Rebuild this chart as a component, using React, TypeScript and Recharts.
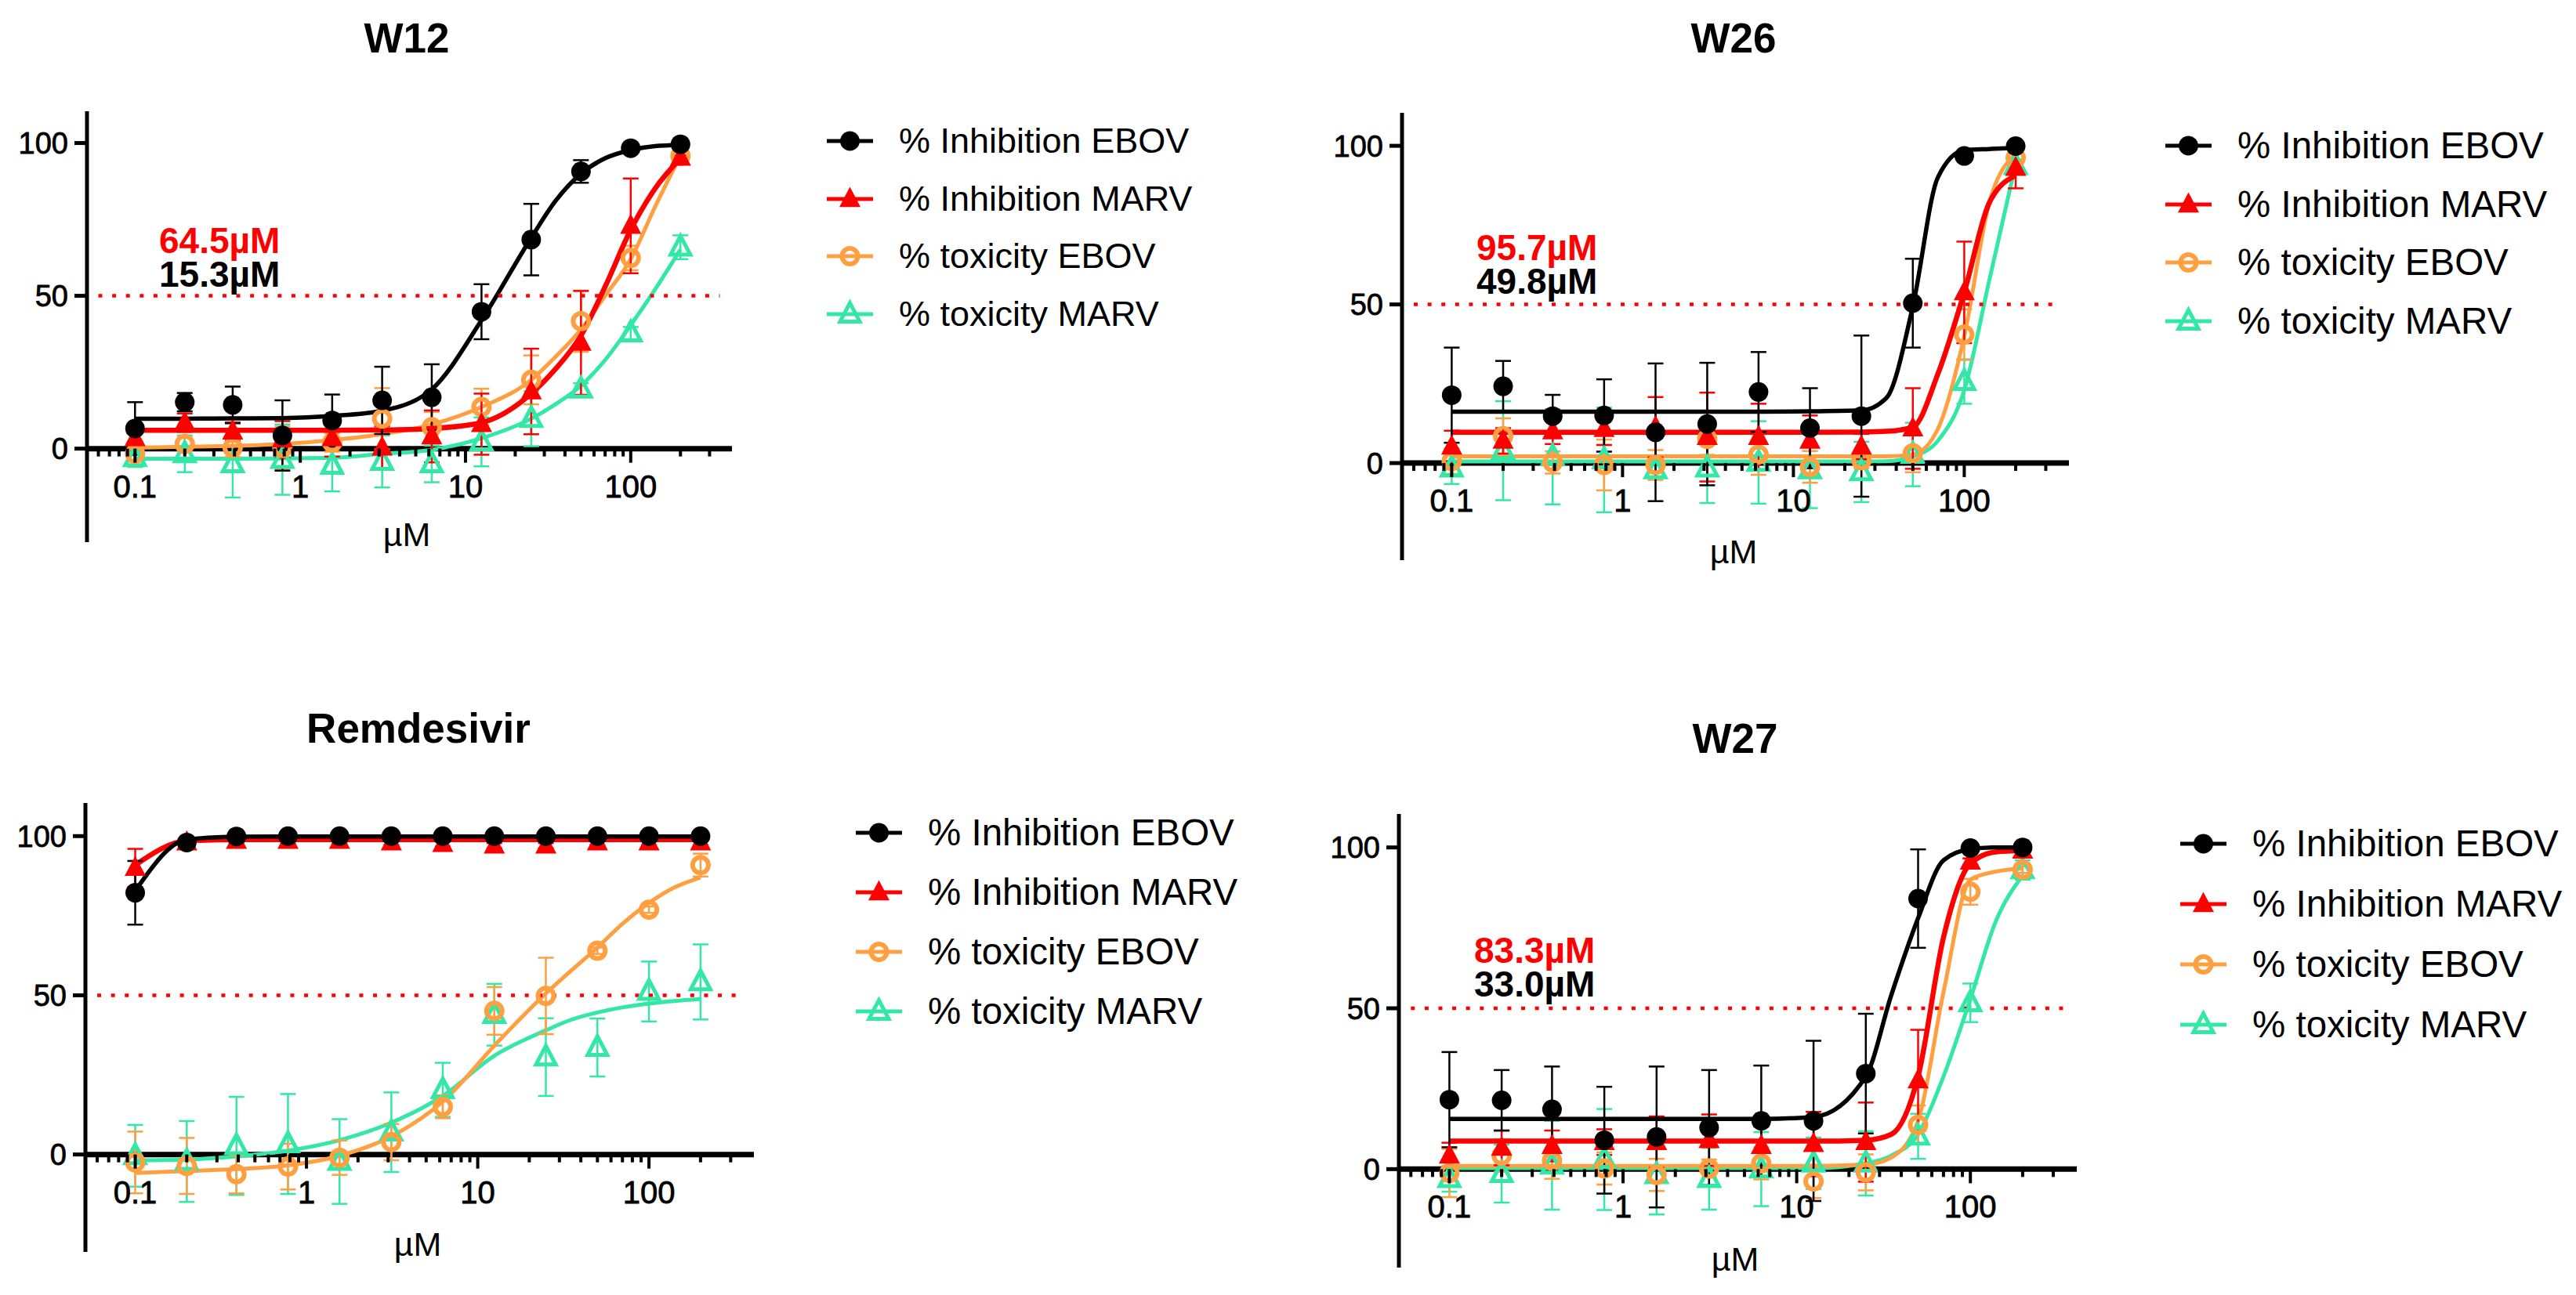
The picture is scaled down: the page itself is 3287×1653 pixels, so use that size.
import React from "react";
import { ComposedChart, ErrorBar, Line, ReferenceLine, Scatter, XAxis, YAxis } from "recharts";

const DOSES = [0.1, 0.2, 0.39, 0.78, 1.56, 3.13, 6.25, 12.5, 25, 50, 100, 200];
const FIT_DOSES = [0.1, 0.2, 0.39, 0.78, 1.56, 3.13, 6.25, 12.5, 25, 35, 50, 70, 100, 140, 200];
const X_TICKS = [
  0.06, 0.07, 0.08, 0.09, 0.1, 0.2, 0.3, 0.4, 0.5, 0.6, 0.7, 0.8, 0.9, 1, 2, 3, 4, 5, 6, 7, 8, 9, 10,
  20, 30, 40, 50, 60, 70, 80, 90, 100, 200, 300,
];
const X_LABELS = [0.1, 1, 10, 100];
const Y_TICKS = [0, 50, 100];
const X_DOMAIN = [0.0512, 410];
const Y_DOMAIN = [-30.6, 110.4];
const LEGEND_LABELS = ["% Inhibition EBOV", "% Inhibition MARV", "% toxicity EBOV", "% toxicity MARV"];

// W12
const W12_INH_EBOV = [6.6, 15.2, 14.3, 4.3, 9.2, 15.8, 16.8, 44.8, 68.4, 90.7, 98.3, 99.6];
const W12_INH_EBOV_ERR = [8.6, 3, 6, 11.5, 8.5, 11, 10.8, 9, 11.7, 3.7, 0.8, 0.3];
const W12_INH_EBOV_FIT = [9.8, 9.8, 9.9, 10, 10.7, 12.4, 19.4, 42, 69, 81, 90, 95, 97.7, 99, 99.4];
const W12_INH_MARV = [3.4, 8.5, 5.6, 3, 3.4, 0.3, 4, 8, 18.7, 34.6, 72.9, 95.2];
const W12_INH_MARV_ERR = [4, 3, 3, 6, 6, 7, 8.5, 10, 14, 17, 15.5, 0.8];
const W12_INH_MARV_FIT = [6, 6, 6, 6, 6, 6.1, 6.6, 8.5, 18, 26, 37, 53, 71.6, 85, 95];
const W12_TOX_EBOV = [-1.7, 1.5, 0.3, 0.2, 2, 9.8, 7, 13.6, 22.5, 41.7, 62.4, 95.8];
const W12_TOX_EBOV_ERR = [4, 2, 3, 7, 3, 10, 5, 6, 8, 10, 4, 1];
const W12_TOX_EBOV_FIT = [0.3, 0.6, 0.9, 1.5, 2.8, 4.7, 7.9, 13.6, 22.5, 30, 39, 50, 62, 79, 95.8];
const W12_TOX_MARV = [-3, -1.7, -5, -3.6, -5.5, -4.2, -5, 2.2, 9.8, 19.4, 37.8, 65.9];
const W12_TOX_MARV_ERR = [3, 6, 11, 11.5, 8.5, 8.5, 6, 8, 9, 2, 2, 3.9];
const W12_TOX_MARV_FIT = [-3.3, -3.3, -3.3, -3.2, -3, -1.7, -0.4, 3.4, 9.8, 14.5, 20.6, 29, 40.4, 52, 65.2];

// W26
const W26_INH_EBOV = [21.4, 24.2, 14.8, 15, 9.7, 12.3, 22.4, 11, 14.8, 50.4, 96.8, 99.9];
const W26_INH_EBOV_ERR = [15, 8, 6.7, 11.4, 21.7, 19.3, 12.6, 12.6, 25.4, 14, 0.7, 0.3];
const W26_INH_EBOV_FIT = [16.2, 16.2, 16.2, 16.2, 16.2, 16.2, 16.2, 16.3, 16.6, 20.5, 49.4, 90, 98.6, 99, 99.3];
const W26_INH_MARV = [5.2, 7, 10, 10.7, 11.3, 8.2, 8.2, 7, 5.2, 10.9, 53.8, 93];
const W26_INH_MARV_ERR = [5, 4, 4, 5, 9.5, 14, 10.5, 8, 4, 12.7, 16, 6.4];
const W26_INH_MARV_FIT = [9.7, 9.7, 9.7, 9.7, 9.7, 9.7, 9.7, 9.7, 9.8, 10, 11.3, 28, 53.8, 82, 90.7];
const W26_TOX_EBOV = [0.6, 8.5, 0.2, -0.6, -0.6, 7.6, 2.7, -1.2, 0.9, 3.1, 40.5, 96.2];
const W26_TOX_EBOV_ERR = [4, 5.6, 3.5, 8, 4.7, 5, 6.4, 5, 2.5, 6, 8, 2];
const W26_TOX_EBOV_FIT = [2.1, 2.1, 2.1, 2.1, 2.1, 2.1, 2.1, 2.1, 2.1, 2.1, 2.7, 10.7, 40, 82, 97.4];
const W26_TOX_MARV = [-1.6, 3.9, 2, 1, -2.2, -1.6, 0.2, -2.2, -2.8, 2.7, 25.7, 93.7];
const W26_TOX_MARV_ERR = [5, 15.6, 15, 16.5, 2, 11, 13, 12, 9.5, 10, 7, 2];
const W26_TOX_MARV_FIT = [0.5, 0.5, 0.5, 0.5, 0.5, 0.5, 0.5, 0.5, 0.5, 0.6, 2.1, 7, 23, 57.5, 94.3];

// Remdesivir
const REM_INH_EBOV = [82.2, 98, 99.9, 100, 100, 100, 100, 100, 100, 100, 100, 100];
const REM_INH_EBOV_ERR = [10, 1, 0.3, 0.3, 0.3, 0.3, 0.3, 0.3, 0.3, 0.3, 0.3, 0.3];
const REM_INH_EBOV_FIT = [82.8, 98.9, 99.8, 99.9, 99.9, 99.9, 99.9, 99.9, 99.9, 99.9, 99.9, 99.9, 99.9, 99.9, 99.9];
const REM_INH_MARV = [90, 98, 98.5, 98.5, 98.5, 98, 97.5, 97, 97, 98, 98, 98];
const REM_INH_MARV_ERR = [6, 0.8, 0.8, 0.8, 0.8, 0.8, 0.8, 0.8, 0.8, 0.8, 0.8, 0.8];
const REM_INH_MARV_FIT = [90.9, 98.5, 98.9, 98.9, 98.9, 98.9, 98.9, 98.9, 98.9, 98.9, 98.9, 98.9, 98.9, 98.9, 98.9];
const REM_TOX_EBOV = [-2.5, -3.6, -6.2, -3.8, -1, 3.9, 15, 45.1, 49.8, 64, 76.9, 90.9];
const REM_TOX_EBOV_ERR = [9.7, 8.8, 6, 7.2, 5.4, 5.7, 3.6, 7.5, 12, 1, 1, 3.6];
const REM_TOX_EBOV_FIT = [-5.8, -5.2, -4.6, -3.4, -0.4, 5.7, 16.6, 34.2, 50.6, 57.7, 65, 72.5, 79, 83.8, 87];
const REM_TOX_MARV = [-0.4, -2.2, 2.7, 3.3, -2.2, 7, 20.3, 43.9, 30.6, 33.6, 51.2, 54.2];
const REM_TOX_MARV_ERR = [9.7, 12.7, 15.4, 15.7, 13.3, 12.5, 8.5, 9.7, 12.2, 9.1, 9.4, 11.8];
const REM_TOX_MARV_FIT = [-1.8, -1.6, -0.6, 1.2, 4.5, 10, 18.4, 31, 39, 42.3, 44.6, 46.2, 47.4, 48.2, 48.8];

// W27
const W27_INH_EBOV = [21.6, 21.4, 18.6, 9, 10, 12.9, 15, 15, 29.7, 84.1, 99.8, 100];
const W27_INH_EBOV_ERR = [14.8, 9.4, 13.3, 16.6, 21.9, 17.9, 17.2, 24.9, 18.6, 15.3, 1, 0.3];
const W27_INH_EBOV_FIT = [15.6, 15.6, 15.6, 15.6, 15.6, 15.6, 15.6, 16.2, 28.8, 54, 78, 96, 99.5, 100, 100];
const W27_INH_MARV = [4.2, 6.6, 7.2, 8.4, 8.4, 9, 7.2, 7.8, 8.4, 27.6, 95.6, 99];
const W27_INH_MARV_ERR = [4, 5.4, 4.8, 4, 8, 8, 6, 10, 12.3, 15.7, 1, 0.5];
const W27_INH_MARV_FIT = [8.7, 8.7, 8.7, 8.7, 8.7, 8.7, 8.7, 8.7, 9, 10.8, 28.8, 72, 95, 98.6, 99];
const W27_TOX_EBOV = [-1.2, 4.2, 2.6, 0.2, -1.8, 0.2, 1.8, -3.8, -1, 13.8, 86.2, 93.1];
const W27_TOX_EBOV_ERR = [7.5, 5, 5.6, 5, 5, 2.8, 5, 5.2, 5.6, 6, 4, 1];
const W27_TOX_EBOV_FIT = [1, 1, 1, 1, 1, 1, 1, 1, 1.4, 3.6, 15, 55, 90, 92.5, 93.5];
const W27_TOX_MARV = [-3, -1.4, 1.2, 3, -1.8, -3, 0, 1.8, 1.8, 10.2, 51.7, 93];
const W27_TOX_MARV_ERR = [4, 9, 13.8, 15.7, 12.3, 9.6, 11.5, 8, 10, 7, 6, 3];
const W27_TOX_MARV_FIT = [0.3, 0.3, 0.3, 0.3, 0.3, 0.3, 0.3, 0.3, 1.8, 4.2, 10.8, 28.8, 52.9, 77, 91.3];

const COLORS = { inhEbov: "#000000", inhMarv: "#ff0000", toxEbov: "#ff9f40", toxMarv: "#33e8a6" };
const FONT = "'Liberation Sans', Arial, sans-serif";

// drawn back to front, black ends up on top
const SERIES = [
  { key: "toxMarv", marker: "triangleOpen", width: 5 },
  { key: "toxEbov", marker: "circleOpen", width: 5 },
  { key: "inhMarv", marker: "triangle", width: 6.5 },
  { key: "inhEbov", marker: "circle", width: 5.5 },
];

const LEGEND_ORDER = [
  { key: "inhEbov", marker: "circle" },
  { key: "inhMarv", marker: "triangle" },
  { key: "toxEbov", marker: "circleOpen" },
  { key: "toxMarv", marker: "triangleOpen" },
];

const PANELS = [
  {
    title: "W12", ec50: ["64.5µM", "15.3µM"],
    left: 111, right: 934, top: 142, bottom: 692,
    titleAt: [519, 48], xLabelAt: [519, 682], ec50At: [203, 307, 350],
    legendAt: [1055, 180, 73.7, 45],
    series: {
      inhEbov: [W12_INH_EBOV, W12_INH_EBOV_ERR, W12_INH_EBOV_FIT],
      inhMarv: [W12_INH_MARV, W12_INH_MARV_ERR, W12_INH_MARV_FIT],
      toxEbov: [W12_TOX_EBOV, W12_TOX_EBOV_ERR, W12_TOX_EBOV_FIT],
      toxMarv: [W12_TOX_MARV, W12_TOX_MARV_ERR, W12_TOX_MARV_FIT],
    },
  },
  {
    title: "W26", ec50: ["95.7µM", "49.8µM"],
    left: 1789, right: 2640, top: 144, bottom: 715,
    titleAt: [2212, 48], xLabelAt: [2212, 704], ec50At: [1884, 316, 359],
    legendAt: [2763, 186, 74.5, 47.5],
    series: {
      inhEbov: [W26_INH_EBOV, W26_INH_EBOV_ERR, W26_INH_EBOV_FIT],
      inhMarv: [W26_INH_MARV, W26_INH_MARV_ERR, W26_INH_MARV_FIT],
      toxEbov: [W26_TOX_EBOV, W26_TOX_EBOV_ERR, W26_TOX_EBOV_FIT],
      toxMarv: [W26_TOX_MARV, W26_TOX_MARV_ERR, W26_TOX_MARV_FIT],
    },
  },
  {
    title: "Remdesivir", ec50: null,
    left: 109, right: 962, top: 1025, bottom: 1598,
    titleAt: [534, 929], xLabelAt: [533, 1588], ec50At: null,
    legendAt: [1092, 1063, 76, 47.5],
    series: {
      inhEbov: [REM_INH_EBOV, REM_INH_EBOV_ERR, REM_INH_EBOV_FIT],
      inhMarv: [REM_INH_MARV, REM_INH_MARV_ERR, REM_INH_MARV_FIT],
      toxEbov: [REM_TOX_EBOV, REM_TOX_EBOV_ERR, REM_TOX_EBOV_FIT],
      toxMarv: [REM_TOX_MARV, REM_TOX_MARV_ERR, REM_TOX_MARV_FIT],
    },
  },
  {
    title: "W27", ec50: ["83.3µM", "33.0µM"],
    left: 1785, right: 2650, top: 1039, bottom: 1618,
    titleAt: [2214, 942], xLabelAt: [2214, 1607], ec50At: [1881, 1213, 1256],
    legendAt: [2782, 1077, 77, 47.5],
    series: {
      inhEbov: [W27_INH_EBOV, W27_INH_EBOV_ERR, W27_INH_EBOV_FIT],
      inhMarv: [W27_INH_MARV, W27_INH_MARV_ERR, W27_INH_MARV_FIT],
      toxEbov: [W27_TOX_EBOV, W27_TOX_EBOV_ERR, W27_TOX_EBOV_FIT],
      toxMarv: [W27_TOX_MARV, W27_TOX_MARV_ERR, W27_TOX_MARV_FIT],
    },
  },
];

const Marker = ({ type, cx, cy, color }: any) => {
  if (type === "circle") return <circle cx={cx} cy={cy} r={12.5} fill={color} />;
  if (type === "circleOpen") return <circle cx={cx} cy={cy} r={10} fill="none" stroke={color} strokeWidth={6} />;
  const pts = (r: number) => `${cx},${cy - r * 1.15} ${cx + r},${cy + r * 0.75} ${cx - r},${cy + r * 0.75}`;
  if (type === "triangle") return <polygon points={pts(13.5)} fill={color} />;
  return <polygon points={pts(12.5)} fill="none" stroke={color} strokeWidth={5} />;
};

const Panel = ({ panel }: any) => {
  const plotW = panel.right - panel.left;
  const plotH = panel.bottom - panel.top;
  const axisW = 100;
  // the x axis sits at y=0, not at the bottom of the plot
  const zeroShift = (plotH * (0 - Y_DOMAIN[0])) / (Y_DOMAIN[1] - Y_DOMAIN[0]);

  const fitTable = FIT_DOSES.map((x, i) => {
    const row: Record<string, number> = { x };
    SERIES.forEach((s) => {
      row[s.key] = panel.series[s.key][2][i];
    });
    return row;
  });

  const renderXTick = ({ x, y, payload }: any) => {
    const major = X_LABELS.includes(payload.value);
    const y0 = y - zeroShift;
    return (
      <g>
        <line x1={x} x2={x} y1={y0} y2={y0 + (major ? 18 : 10)} stroke="#000" strokeWidth={4} />
        {major && (
          <text x={x} y={y0 + 62} textAnchor="middle" fontFamily={FONT} fontSize={40} fill="#000" stroke="#000" strokeWidth={0.8}>
            {payload.value}
          </text>
        )}
      </g>
    );
  };

  return (
    <div style={{ position: "absolute", left: panel.left - axisW, top: panel.top }}>
      <ComposedChart
        width={axisW + plotW + 20}
        height={plotH + 1}
        data={fitTable}
        margin={{ top: 0, right: 20, bottom: 0, left: 0 }}
      >
        <XAxis
          dataKey="x"
          type="number"
          scale="log"
          domain={X_DOMAIN}
          ticks={X_TICKS}
          interval={0}
          height={1}
          axisLine={false}
          tickLine={false}
          tickSize={0}
          tickMargin={0}
          tick={renderXTick}
          allowDataOverflow
        />
        <YAxis
          type="number"
          domain={Y_DOMAIN}
          ticks={Y_TICKS}
          width={axisW}
          interval={0}
          allowDataOverflow
          axisLine={{ stroke: "#000", strokeWidth: 5 }}
          tickLine={{ stroke: "#000", strokeWidth: 5 }}
          tickSize={16}
          tickMargin={8}
          tick={{ fontFamily: FONT, fontSize: 38, fill: "#000", stroke: "#000", strokeWidth: 0.8 }}
        />
        <ReferenceLine y={0} stroke="#000" strokeWidth={7} />
        {SERIES.map((s) => {
          const color = COLORS[s.key];
          const [means, errs] = panel.series[s.key];
          const points = DOSES.map((x, i) => ({ x, y: means[i], err: errs[i] }));
          return (
            <React.Fragment key={s.key}>
              <Scatter
                data={points}
                dataKey="y"
                isAnimationActive={false}
                shape={(p: any) => <Marker type={s.marker} cx={p.cx} cy={p.cy} color={color} />}
              >
                <ErrorBar dataKey="err" direction="y" width={10} strokeWidth={2.5} stroke={color} isAnimationActive={false} />
              </Scatter>
              <Line
                dataKey={s.key}
                type="monotone"
                stroke={color}
                strokeWidth={s.width}
                dot={false}
                activeDot={false}
                isAnimationActive={false}
              />
            </React.Fragment>
          );
        })}
        <ReferenceLine
          segment={[{ x: 0.06, y: 50 }, { x: 346, y: 50 }]}
          stroke="#ff0000"
          strokeWidth={4.5}
          strokeDasharray="5 12.6"
        />
      </ComposedChart>
    </div>
  );
};

const centered = (x: number, y: number): React.CSSProperties => ({
  position: "absolute",
  left: x,
  top: y,
  transform: "translate(-50%, -50%)",
  whiteSpace: "nowrap",
});

const PanelText = ({ panel }: any) => {
  const [lx, ly, step, legendSize] = panel.legendAt;
  return (
    <>
      <div style={{ ...centered(panel.titleAt[0], panel.titleAt[1]), fontSize: 53, fontWeight: 700 }}>{panel.title}</div>
      <div style={{ ...centered(panel.xLabelAt[0], panel.xLabelAt[1]), fontSize: 43 }}>µM</div>
      {panel.ec50 && (
        <>
          <div style={{ position: "absolute", left: panel.ec50At[0], top: panel.ec50At[1] - 20, fontSize: 46, fontWeight: 700, color: COLORS.inhMarv, lineHeight: "40px" }}>
            {panel.ec50[0]}
          </div>
          <div style={{ position: "absolute", left: panel.ec50At[0], top: panel.ec50At[2] - 20, fontSize: 46, fontWeight: 700, color: "#000", lineHeight: "40px" }}>
            {panel.ec50[1]}
          </div>
        </>
      )}
      {LEGEND_ORDER.map((item, i) => (
        <div key={item.key} style={{ position: "absolute", left: lx, top: ly + i * step - 30, height: 60, display: "flex", alignItems: "center" }}>
          <svg width={59} height={60} style={{ overflow: "visible" }}>
            <line x1={0} x2={59} y1={30} y2={30} stroke={COLORS[item.key]} strokeWidth={5} />
            <Marker type={item.marker} cx={29.5} cy={30} color={COLORS[item.key]} />
          </svg>
          <span style={{ marginLeft: 33, fontSize: legendSize, lineHeight: "50px" }}>{LEGEND_LABELS[i]}</span>
        </div>
      ))}
    </>
  );
};

export default function App() {
  return (
    <div style={{ position: "absolute", left: 0, top: 0, width: 3287, height: 1653, overflow: "hidden", background: "#fff", fontFamily: FONT, color: "#000" }}>
      {PANELS.map((panel) => (
        <React.Fragment key={panel.title}>
          <Panel panel={panel} />
          <PanelText panel={panel} />
        </React.Fragment>
      ))}
    </div>
  );
}
